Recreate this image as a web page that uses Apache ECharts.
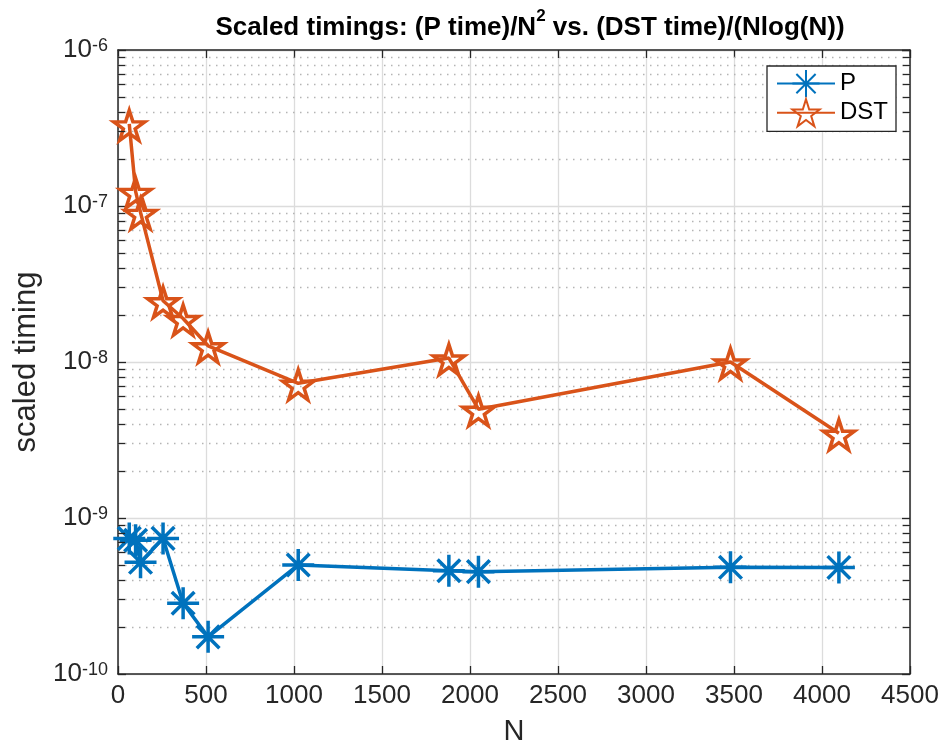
<!DOCTYPE html>
<html>
<head>
<meta charset="utf-8">
<script src="https://cdn.jsdelivr.net/npm/echarts@6/dist/echarts.min.js"></script>
<style>
html,body{margin:0;padding:0;background:#fff;}
#chart{width:945px;height:745px;}
</style>
</head>
<body>
<div id="chart"></div>
<script>
// ---- data ----
const nValues = [64, 100, 128, 256, 370, 512, 1024, 1880, 2048, 3480, 4096];
const pTiming = [7.4e-10, 7.2e-10, 5.2e-10, 7.4e-10, 2.84e-10, 1.73e-10, 5.0e-10, 4.59e-10, 4.53e-10, 4.83e-10, 4.82e-10];
const dstTiming = [3.36e-7, 1.24e-7, 9.1e-8, 2.47e-8, 1.9e-8, 1.27e-8, 7.3e-9, 1.06e-8, 4.98e-9, 1.0e-8, 3.49e-9];
const xTickValues = [0, 500, 1000, 1500, 2000, 2500, 3000, 3500, 4000, 4500];
const yTickExponents = [-10, -9, -8, -7, -6];
const seriesNames = ['P', 'DST'];

const colP = '#0072BD';
const colDST = '#D95319';
const axisCol = '#262626';
const FONT = 'Liberation Sans, Arial, sans-serif';

const xMin = xTickValues[0], xMax = xTickValues[xTickValues.length - 1];
const yMin = Math.pow(10, yTickExponents[0]);
const yMax = Math.pow(10, yTickExponents[yTickExponents.length - 1]);

// minor log positions (2..9 x decade)
const minorVals = [];
for (let i = 0; i < yTickExponents.length - 1; i++) {
  for (let m = 2; m <= 9; m++) minorVals.push(m * Math.pow(10, yTickExponents[i]));
}
const tickLen = 40; // in N units, short inner tick marks
const minorGrid = minorVals.map(v => [{ coord: [xMin, v] }, { coord: [xMax, v] }]);
const minorTicks = [];
minorVals.forEach(v => {
  minorTicks.push([{ coord: [xMin, v] }, { coord: [xMin + tickLen, v] }]);
  minorTicks.push([{ coord: [xMax - tickLen, v] }, { coord: [xMax, v] }]);
});

const asterisk = 'path://M0,-100L0,100M-100,0L100,0M-70.7,-70.7L70.7,70.7M-70.7,70.7L70.7,-70.7';
const star = 'path://M0,-100L22.45,-30.9L95.11,-30.9L36.33,11.8L58.78,80.9L0,38.2L-58.78,80.9L-36.33,11.8L-95.11,-30.9L-22.45,-30.9Z';

const chart = echarts.init(document.getElementById('chart'), null, { renderer: 'canvas' });

function expLabel(v) {
  const e = Math.round(Math.log10(v));
  if (yTickExponents.indexOf(e) < 0) return '';
  return '{b|10}{s|' + e + '}';
}

const helperPoint = [[xTickValues[0], yMin]];

const option = {
  backgroundColor: '#fff',
  animation: false,
  title: {
    text: '{t|Scaled timings: (P time)/N}{sup|2}{t| vs. (DST time)/(Nlog(N))}',
    left: 525,
    textAlign: 'center',
    top: 10,
    textStyle: {
      rich: {
        t: { fontFamily: FONT, fontWeight: 'bold', fontSize: 26, color: '#000', lineHeight: 26, verticalAlign: 'bottom' },
        sup: { fontFamily: FONT, fontWeight: 'bold', fontSize: 17, color: '#000', lineHeight: 17, verticalAlign: 'bottom', padding: [0, 0, 16, 0] }
      }
    }
  },
  grid: { left: 118, right: 35, top: 50, bottom: 71, containLabel: false, outerBoundsMode: 'none' },
  legend: {
    data: seriesNames,
    orient: 'vertical',
    left: 767,
    top: 66,
    padding: [3, 8, 4, 9],
    itemGap: 0,
    itemWidth: 58,
    itemHeight: 34,
    backgroundColor: '#fff',
    borderColor: axisCol,
    borderWidth: 1.3,
    textStyle: { fontFamily: FONT, fontSize: 24, lineHeight: 29, color: '#000' }
  },
  xAxis: [
    {
      type: 'value', min: xMin, max: xMax, interval: 500,
      position: 'bottom',
      name: 'N', nameLocation: 'middle', nameGap: 43,
      nameTextStyle: { fontFamily: FONT, fontSize: 29, color: axisCol },
      axisLine: { show: true, onZero: false, lineStyle: { color: axisCol, width: 1.5 } },
      axisTick: { show: true, inside: true, length: 8, lineStyle: { color: axisCol, width: 1.3 } },
      axisLabel: { fontFamily: FONT, fontSize: 26, color: axisCol, margin: 9,
        formatter: v => (xTickValues.indexOf(v) >= 0 ? String(v) : '') },
      splitLine: { show: true, lineStyle: { color: '#dcdcdc', width: 1.3 } }
    },
    {
      type: 'value', min: xMin, max: xMax, interval: 500,
      position: 'top',
      axisLine: { show: true, onZero: false, lineStyle: { color: axisCol, width: 1.5 } },
      axisTick: { show: true, inside: true, length: 8, lineStyle: { color: axisCol, width: 1.3 } },
      axisLabel: { show: false },
      splitLine: { show: false }
    }
  ],
  yAxis: [
    {
      type: 'log', logBase: 10, min: yMin, max: yMax, splitNumber: 4,
      position: 'left',
      name: 'scaled timing', nameLocation: 'middle', nameGap: 76, nameRotate: 90,
      nameTextStyle: { fontFamily: FONT, fontSize: 31, color: axisCol },
      axisLine: { show: true, onZero: false, lineStyle: { color: axisCol, width: 1.5 } },
      axisTick: { show: true, inside: true, length: 8, lineStyle: { color: axisCol, width: 1.3 } },
      axisLabel: {
        margin: 10,
        formatter: expLabel,
        rich: {
          b: { fontFamily: FONT, fontSize: 26, color: axisCol, verticalAlign: 'bottom', lineHeight: 26, padding: [7, 0, 0, 0] },
          s: { fontFamily: FONT, fontSize: 18, color: axisCol, verticalAlign: 'top', lineHeight: 18 }
        }
      },
      splitLine: { show: true, lineStyle: { color: '#dcdcdc', width: 1.3 } }
    },
    {
      type: 'log', logBase: 10, min: yMin, max: yMax, splitNumber: 4,
      position: 'right',
      axisLine: { show: true, onZero: false, lineStyle: { color: axisCol, width: 1.5 } },
      axisTick: { show: true, inside: true, length: 8, lineStyle: { color: axisCol, width: 1.3 } },
      axisLabel: { show: false },
      splitLine: { show: false }
    }
  ],
  series: [
    {
      name: 'minorGrid',
      type: 'line',
      data: helperPoint,
      showSymbol: false,
      symbol: 'none',
      lineStyle: { opacity: 0 },
      z: 1,
      silent: true,
      markLine: {
        silent: true,
        symbol: 'none',
        label: { show: false },
        animation: false,
        z: 1,
        lineStyle: { color: '#b4b4b4', width: 1.3, type: [1.5, 5.5] },
        data: minorGrid
      }
    },
    {
      name: 'minorTicks',
      type: 'line',
      data: helperPoint,
      showSymbol: false,
      symbol: 'none',
      lineStyle: { opacity: 0 },
      z: 5,
      silent: true,
      markLine: {
        silent: true,
        symbol: 'none',
        label: { show: false },
        animation: false,
        z: 5,
        lineStyle: { color: axisCol, width: 1.3, type: 'solid' },
        data: minorTicks
      }
    },
    {
      name: seriesNames[0],
      type: 'line',
      z: 3,
      data: nValues.map((n, i) => [n, pTiming[i]]),
      symbol: asterisk,
      symbolSize: 32,
      lineStyle: { color: colP, width: 3.5 },
      itemStyle: { color: colP, borderColor: colP, borderWidth: 3.5 }
    },
    {
      name: seriesNames[1],
      type: 'line',
      z: 3,
      data: nValues.map((n, i) => [n, dstTiming[i]]),
      symbol: star,
      symbolSize: [31, 30],
      symbolOffset: [0, 1.5],
      lineStyle: { color: colDST, width: 3.5 },
      itemStyle: { color: 'rgba(255,255,255,0)', borderColor: colDST, borderWidth: 3.5 }
    }
  ]
};
chart.setOption(option);
</script>
</body>
</html>
